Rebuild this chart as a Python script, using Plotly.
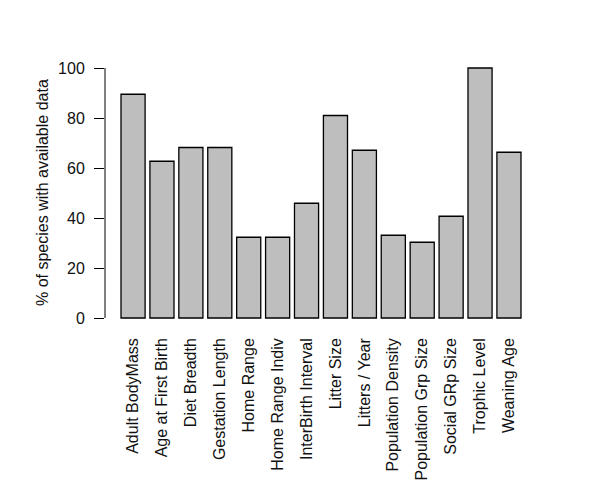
import plotly.graph_objects as go

categories = ["Adult BodyMass", "Age at First Birth", "Diet Breadth", "Gestation Length",
              "Home Range", "Home Range Indiv", "InterBirth Interval", "Litter Size",
              "Litters / Year", "Population Density", "Population Grp Size",
              "Social GRp Size", "Trophic Level", "Weaning Age"]
values = [89.5, 62.7, 68.2, 68.2, 32.3, 32.3, 45.9, 81.0, 67.1, 33.1, 30.3, 40.7, 100.0, 66.3]
y_ticks = [0, 20, 40, 60, 80, 100]

# R barplot positions: width 1, space 0.2
positions = [0.7 + 1.2 * i for i in range(len(categories))]
xmin, xmax = 0.2, 0.2 + 1.2 * len(categories) - 0.2
xpad = 0.04 * (xmax - xmin)
ypad = 0.04 * 100

FONT = "Liberation Sans, Arial, sans-serif"
TXT = "#111111"
FS = 16

fig = go.Figure()
fig.add_trace(go.Bar(
    x=positions, y=values, width=1.0,
    marker=dict(color="#bebebe", line=dict(color="black", width=1.3)),
    hoverinfo="skip",
))

fig.update_layout(
    width=605, height=484,
    margin=dict(l=97, r=76, t=50, b=164, autoexpand=False),
    paper_bgcolor="white", plot_bgcolor="white",
    showlegend=False,
    font=dict(family=FONT, size=FS, color=TXT),
    xaxis=dict(
        range=[xmin - xpad, xmax + xpad], automargin=False,
        tickmode="array", tickvals=positions, ticktext=categories,
        tickangle=-90, ticks="", showgrid=False, zeroline=False, showline=False,
        ticklabelstandoff=6,
        tickfont=dict(family=FONT, size=FS, color=TXT),
    ),
    yaxis=dict(
        range=[-ypad, 100 + ypad], automargin=False,
        tickmode="array", tickvals=y_ticks,
        ticks="outside", ticklen=10, tickwidth=1, tickcolor="black",
        ticklabelstandoff=6,
        showgrid=False, zeroline=False, showline=False,
        tickfont=dict(family=FONT, size=FS, color=TXT),
    ),
    shapes=[dict(type="line", xref="paper", x0=0, x1=0, yref="y", y0=0, y1=100,
                 line=dict(color="black", width=1))],
    annotations=[dict(text="% of species with available data", xref="paper", yref="paper",
                      x=(42 - 105) / 432, y=0.5, xanchor="center", yanchor="middle",
                      textangle=-90, showarrow=False,
                      font=dict(family=FONT, size=FS, color=TXT))],
)

fig.write_html("out.html")
